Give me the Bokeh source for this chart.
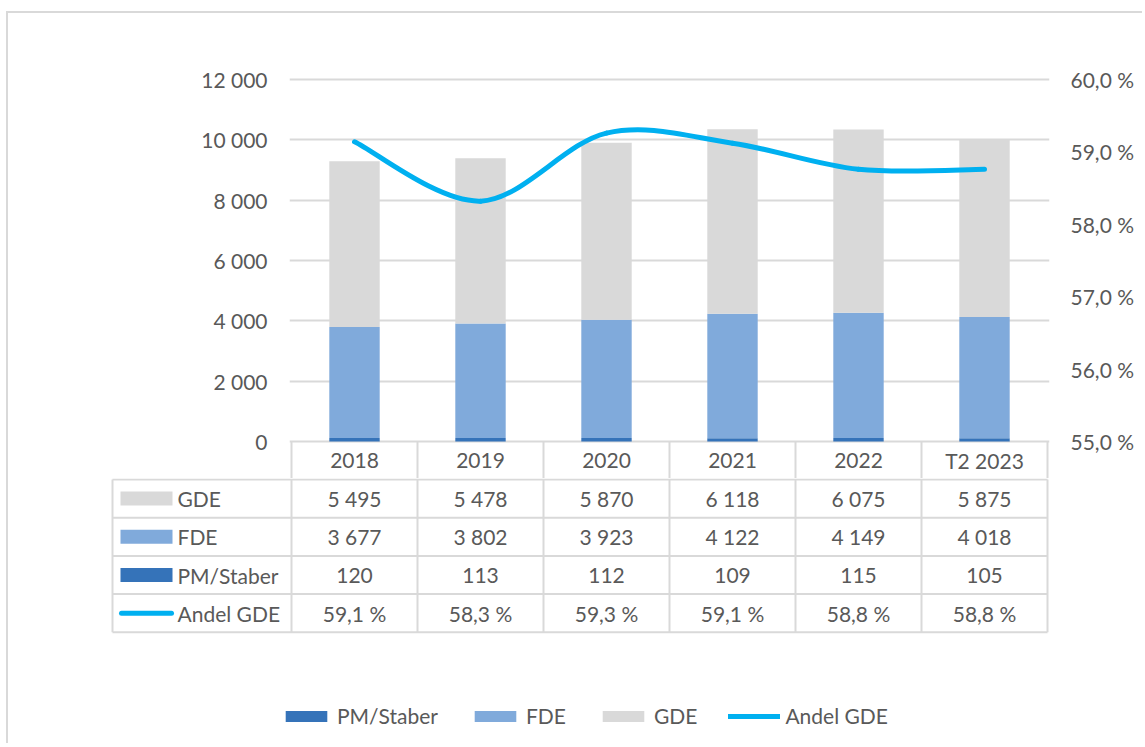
import numpy as np
from bokeh.plotting import figure
from bokeh.models import ColumnDataSource, Range1d, LinearAxis, FixedTicker, Legend, LegendItem
from bokeh.layouts import column
from bokeh.core.properties import value
from bokeh.embed import file_html
from bokeh.resources import INLINE

# ---------------- data ----------------
categories = ["2018", "2019", "2020", "2021", "2022", "T2 2023"]
gde = [5495, 5478, 5870, 6118, 6075, 5875]
fde = [3677, 3802, 3923, 4122, 4149, 4018]
pm_staber = [120, 113, 112, 109, 115, 105]
andel_gde = [59.14, 58.32, 59.26, 59.12, 58.76, 58.76]

series_names = ["PM/Staber", "FDE", "GDE", "Andel GDE"]

left_ticks = [0, 2000, 4000, 6000, 8000, 10000, 12000]
left_tick_labels = ["0", "2 000", "4 000", "6 000", "8 000", "10 000", "12 000"]
right_ticks = [55, 56, 57, 58, 59, 60]
right_tick_labels = ["55,0 %", "56,0 %", "57,0 %", "58,0 %", "59,0 %", "60,0 %"]

# ---------------- style ----------------
C_PM = "#3573B9"
C_FDE = "#80AADB"
C_GDE = "#D9D9D9"
C_LINE = "#00B0F0"
C_TEXT = "#595959"
C_GRID = "#D9D9D9"
FONT = "Lato"
FS = "21px"

n = len(categories)
COLW = 126.0          # px per category column
PX = 362.0 / 12000    # px per unit (left axis)
PX2 = 362.0 / 5       # px per percent (right axis)
HDR = 37.0            # header row height px
W = 1134

xs = [i + 0.5 for i in range(n)]

# ---------------- main chart ----------------
p = figure(width=W, height=465, output_backend="svg", toolbar_location=None,
           x_range=Range1d(-2 / COLW, n + 2 / COLW),
           y_range=Range1d(-HDR / PX, 364 / PX),
           x_axis_location=None, y_axis_location="left",
           min_border_left=281, min_border_right=93, min_border_top=64, min_border_bottom=0)
p.frame_align = False
p.outline_line_color = None
p.xgrid.grid_line_color = None
p.ygrid.ticker = FixedTicker(ticks=left_ticks)
p.ygrid.grid_line_color = C_GRID
p.ygrid.grid_line_width = 2

ya = p.yaxis[0]
ya.ticker = FixedTicker(ticks=left_ticks)
ya.major_label_overrides = {t: l for t, l in zip(left_ticks, left_tick_labels)}
ya.axis_line_color = None
ya.major_tick_line_color = None
ya.minor_tick_line_color = None
ya.major_tick_out = 0
ya.major_tick_in = 0
ya.major_label_standoff = 22
ya.major_label_text_font = FONT
ya.major_label_text_font_size = FS
ya.major_label_text_color = C_TEXT

p.extra_y_ranges = {"pct": Range1d(55 - HDR / PX2, 55 + 364 / PX2)}
ra = LinearAxis(y_range_name="pct", ticker=FixedTicker(ticks=right_ticks))
ra.major_label_overrides = {t: l for t, l in zip(right_ticks, right_tick_labels)}
ra.axis_line_color = None
ra.major_tick_line_color = None
ra.minor_tick_line_color = None
ra.major_tick_out = 0
ra.major_tick_in = 0
ra.major_label_standoff = 21
ra.major_label_text_font = FONT
ra.major_label_text_font_size = FS
ra.major_label_text_color = C_TEXT
p.add_layout(ra, "right")

src = ColumnDataSource(dict(x=xs, pm=pm_staber, fde=fde, gde=gde))
p.vbar_stack(["pm", "fde", "gde"], x="x", width=0.4, source=src,
             fill_color=[C_PM, C_FDE, C_GDE], line_color=None)

# smoothed line (Catmull-Rom -> cubic Bezier, as Excel's smoothed line)
bx0, by0, bx1, by1, cx0, cy0, cx1, cy1 = [], [], [], [], [], [], [], []
for i in range(n - 1):
    xm, ym = (xs[i - 1], andel_gde[i - 1]) if i > 0 else (xs[i], andel_gde[i])
    xp, yp = (xs[i + 2], andel_gde[i + 2]) if i + 2 < n else (xs[i + 1], andel_gde[i + 1])
    bx0.append(xs[i]); by0.append(andel_gde[i])
    bx1.append(xs[i + 1]); by1.append(andel_gde[i + 1])
    cx0.append(xs[i] + (xs[i + 1] - xm) / 6); cy0.append(andel_gde[i] + (andel_gde[i + 1] - ym) / 6)
    cx1.append(xs[i + 1] - (xp - xs[i]) / 6); cy1.append(andel_gde[i + 1] - (yp - andel_gde[i]) / 6)
p.bezier(x0=bx0, y0=by0, x1=bx1, y1=by1, cx0=cx0, cy0=cy0, cx1=cx1, cy1=cy1,
         y_range_name="pct", line_color=C_LINE, line_width=5, line_cap="round")

# header row of the data table
bounds = list(range(n + 1))
p.segment(x0=bounds, y0=[0] * (n + 1), x1=bounds, y1=[-(HDR + 5) / PX] * (n + 1),
          line_color=C_GRID, line_width=2)
p.text(x=xs, y=[-(HDR / 2) / PX] * n, text=categories, text_font=value(FONT),
       text_font_size=value(FS), text_color=C_TEXT, text_align="center",
       text_baseline="middle")

# ---------------- data table + legend ----------------
RH = 38.2
QH = 265
left_edge = -179 / COLW
q = figure(width=W, height=QH, output_backend="svg", toolbar_location=None,
           x_range=Range1d(-181 / COLW, n + 2 / COLW),
           y_range=Range1d(-(QH - 1) / RH, 1 / RH),
           x_axis_location=None, y_axis_location=None,
           min_border_left=102, min_border_right=93, min_border_top=0, min_border_bottom=0)
q.frame_align = False
q.outline_line_color = None
q.xgrid.grid_line_color = None
q.ygrid.grid_line_color = None

nrows = 4
hy = [-float(r) for r in range(nrows + 1)]
q.segment(x0=[left_edge] * len(hy), y0=hy, x1=[n] * len(hy), y1=hy, line_color=C_GRID, line_width=2)
vx = [left_edge] + bounds
q.segment(x0=vx, y0=[0] * len(vx), x1=vx, y1=[-nrows] * len(vx), line_color=C_GRID, line_width=2)

def fmt_int(v):
    return f"{v:,}".replace(",", " ")

def fmt_pct(v):
    return f"{v:.1f} %".replace(".", ",")

rows = [("GDE", gde, fmt_int), ("FDE", fde, fmt_int), ("PM/Staber", pm_staber, fmt_int),
        ("Andel GDE", andel_gde, fmt_pct)]

txt_kw = dict(text_font=value(FONT), text_font_size=value(FS), text_color=C_TEXT,
              text_baseline="middle")
for r, (name, vals, f) in enumerate(rows):
    yc = -(r + 0.5)
    q.text(x=xs, y=[yc] * n, text=[f(v) for v in vals], text_align="center", **txt_kw)
    q.text(x=[(178 - 292) / COLW], y=[yc], text=[name], text_align="left", **txt_kw)

sw_x = (147 - 292) / COLW
r_gde = q.rect(x=[sw_x], y=[-0.5], width=52, height=14, width_units="screen",
               height_units="screen", fill_color=C_GDE, line_color=None)
r_fde = q.rect(x=[sw_x], y=[-1.5], width=52, height=14, width_units="screen",
               height_units="screen", fill_color=C_FDE, line_color=None)
r_pm = q.rect(x=[sw_x], y=[-2.5], width=52, height=14, width_units="screen",
              height_units="screen", fill_color=C_PM, line_color=None)
r_line = q.segment(x0=[(122 - 292) / COLW], y0=[-3.5], x1=[(172 - 292) / COLW], y1=[-3.5],
                   line_color=C_LINE, line_width=5, line_cap="round")

legend = Legend(items=[LegendItem(label=series_names[0], renderers=[r_pm]),
                       LegendItem(label=series_names[1], renderers=[r_fde]),
                       LegendItem(label=series_names[2], renderers=[r_gde]),
                       LegendItem(label=series_names[3], renderers=[r_line])],
                orientation="horizontal", location=(170, 15),
                glyph_width=52, glyph_height=14, label_standoff=5, spacing=31,
                padding=0, margin=0, border_line_color=None, background_fill_alpha=0,
                label_text_font=FONT, label_text_font_size=FS, label_text_color=C_TEXT)
q.add_layout(legend)

layout = column(p, q, styles={"border-left": "2px solid #D9D9D9",
                              "border-top": "2px solid #D9D9D9",
                              "margin-left": "6px", "margin-top": "11px"})

open("out.html", "w").write(file_html(layout, INLINE))
